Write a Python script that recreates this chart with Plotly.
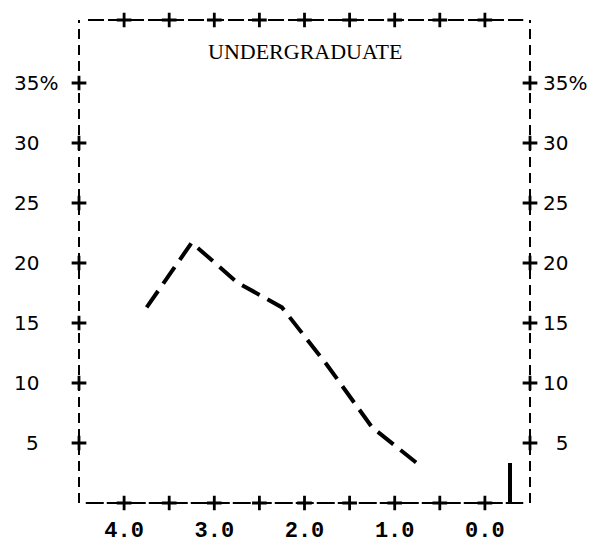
import plotly.graph_objects as go

# ---- data ----
gpa = [3.75, 3.25, 2.75, 2.25, 1.75, 1.25, 0.75]
pct = [16.3, 21.7, 18.4, 16.3, 11.5, 6.3, 3.3]
other_x = [-0.28]
other_pct = [3.3]
y_tick_vals = [5, 10, 15, 20, 25, 30, 35]
x_label_vals = [4.0, 3.0, 2.0, 1.0, 0.0]
x_label_text = ["4.0", "3.0", "2.0", "1.0", "0.0"]
x_plus_vals = [4.0, 3.5, 3.0, 2.5, 2.0, 1.5, 1.0, 0.5, 0.0]
title_text = "UNDERGRADUATE"

X_RANGE = [4.5, -0.5]
Y_RANGE = [0, 40.25]

fig = go.Figure()

# main dashed curve
fig.add_trace(go.Scatter(
    x=gpa, y=pct, mode="lines",
    line=dict(color="black", width=4, dash="20px,9px"),
    hoverinfo="skip", showlegend=False))

# solid short bar
fig.add_trace(go.Bar(
    x=other_x, y=other_pct, width=0.045,
    marker=dict(color="black", line=dict(width=0)),
    showlegend=False))

# plus-sign ticks
plus = dict(symbol="cross-thin", size=10.5, line=dict(color="black", width=2.8))
for xv in (X_RANGE[0], X_RANGE[1]):
    fig.add_trace(go.Scatter(
        x=[xv] * len(y_tick_vals), y=y_tick_vals, mode="markers",
        marker=plus, cliponaxis=False, showlegend=False, hoverinfo="skip"))
for yv in (Y_RANGE[0], Y_RANGE[1]):
    fig.add_trace(go.Scatter(
        x=x_plus_vals, y=[yv] * len(x_plus_vals), mode="markers",
        marker=plus, cliponaxis=False, showlegend=False, hoverinfo="skip"))

# frame
shapes = [
    dict(type="line", xref="paper", yref="paper", x0=0, x1=0, y0=0, y1=1,
         line=dict(color="black", width=2, dash="10px,6px")),
    dict(type="line", xref="paper", yref="paper", x0=1, x1=1, y0=0, y1=1,
         line=dict(color="black", width=2, dash="10px,6px")),
    dict(type="line", xref="paper", yref="paper", x0=0.02, x1=0.985, y0=1, y1=1,
         line=dict(color="black", width=2.2, dash="16px,4px")),
    dict(type="line", xref="paper", yref="paper", x0=0.015, x1=0.985, y0=0, y1=0,
         line=dict(color="black", width=2.2, dash="18px,3px")),
]

hid = '<span style="color:rgba(0,0,0,0)">%s</span>'
annotations = []
ylab_font = dict(family="DejaVu Sans", size=20, color="black")
for v in y_tick_vals:
    suffix = "%" if v == y_tick_vals[-1] else hid % "%"
    annotations.append(dict(
        x=0, xref="paper", y=v, yref="y", xanchor="right", yanchor="middle",
        xshift=-19, text=str(v) + suffix, showarrow=False, font=ylab_font))
    prefix = hid % "0" if v < 10 else ""
    annotations.append(dict(
        x=1, xref="paper", y=v, yref="y", xanchor="left", yanchor="middle",
        xshift=11, text=prefix + str(v) + suffix, showarrow=False, font=ylab_font))

annotations.append(dict(
    x=0.5, xref="paper", y=0.935, yref="paper", xanchor="center", yanchor="middle",
    text=title_text, showarrow=False,
    font=dict(family="Liberation Serif", size=22, color="black")))

fig.update_layout(
    width=601, height=546,
    margin=dict(l=79, r=71, t=20, b=43),
    paper_bgcolor="white", plot_bgcolor="white",
    shapes=shapes, annotations=annotations,
    xaxis=dict(range=X_RANGE, tickvals=x_label_vals, ticktext=x_label_text,
               showgrid=False, zeroline=False, showline=False, ticks="",
               ticklabelstandoff=11, automargin=False,
               tickfont=dict(family="Liberation Mono", size=22, color="black",
                             weight="bold")),
    yaxis=dict(range=Y_RANGE, showgrid=False, zeroline=False, showline=False,
               showticklabels=False, ticks="", automargin=False),
    bargap=0,
)

fig.write_html("out.html", config={"displayModeBar": False},
               post_script="document.body.style.margin='0px';")
